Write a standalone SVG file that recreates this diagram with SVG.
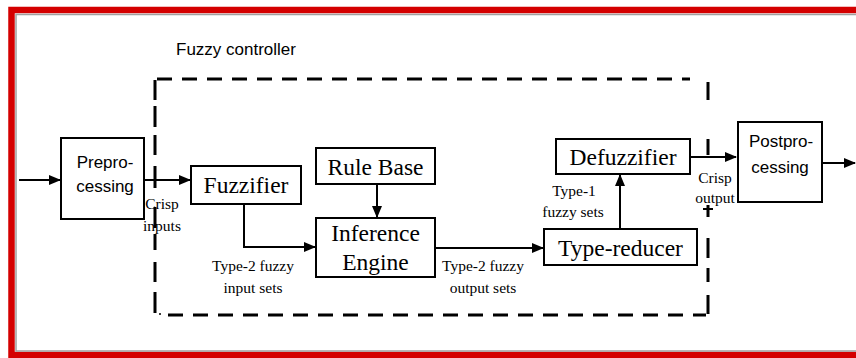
<svg xmlns="http://www.w3.org/2000/svg" width="856" height="358" viewBox="0 0 856 358">
<defs>
<marker id="ah" markerUnits="userSpaceOnUse" markerWidth="12" markerHeight="10" refX="11" refY="5" orient="auto">
<path d="M0,0 L12,5 L0,10 Z" fill="#000"/>
</marker>
<style>
.box{fill:#fff;stroke:#000;stroke-width:2}
.conn{fill:none;stroke:#000;stroke-width:2}
.dash{fill:none;stroke:#000;stroke-width:3}
.sans{font-family:"Liberation Sans",Arial,sans-serif;font-size:17px;fill:#000}
.big{font-family:"Liberation Serif","Times New Roman",serif;font-size:23.5px;fill:#000}
.lbl{font-family:"Liberation Serif","Times New Roman",serif;font-size:15.5px;fill:#000}
</style>
</defs>
<rect width="856" height="358" fill="#fff"/>
<g id="frame">
<path d="M856,10 H11.5 V355 H856" fill="none" stroke="#d40000" stroke-width="6.5"/>
<path d="M856,14.5 H16 V351 H856" fill="none" stroke="#a0a0a0" stroke-width="1.5"/>
</g>
<g id="controller">
<text class="sans" x="176" y="55">Fuzzy controller</text>
<path class="dash" d="M157,79 H690" stroke-dasharray="15 10"/>
<path class="dash" d="M168,315 H706" stroke-dasharray="15 10"/>
<path class="dash" d="M155,80 V100 M155,106 V127 M155,135 V155 M155,166 V188 M155,207 V228 M155,234 V250 M155,262 V282 M155,292 V313"/>
<circle cx="160" cy="314" r="1" fill="#000"/>
<path class="dash" d="M708,82 V100 M708,139 V155 M708,205 V217 M708,238 V258 M708,268 V282 M708,295 V314"/>
<path d="M703,209 H713" stroke="#000" stroke-width="2"/>
</g>
<g id="connectors">
<path class="conn" d="M19,180 H60" marker-end="url(#ah)"/>
<path class="conn" d="M144,180 H190" marker-end="url(#ah)"/>
<path class="conn" d="M377,184 V217" marker-end="url(#ah)"/>
<path class="conn" d="M244,204 V247 H315" marker-end="url(#ah)"/>
<path class="conn" d="M435,248 H543" marker-end="url(#ah)"/>
<path class="conn" d="M620,229 V175" marker-end="url(#ah)"/>
<path class="conn" d="M690,157 H736" marker-end="url(#ah)"/>
<path class="conn" d="M822,163 H855" marker-end="url(#ah)"/>
</g>
<g id="preprocessing">
<rect class="box" x="61" y="138" width="83" height="81"/>
<text class="sans" x="105" y="168" text-anchor="middle">Prepro-</text>
<text class="sans" x="105" y="192" text-anchor="middle">cessing</text>
</g>
<g id="crisp-inputs">
<text class="lbl" x="162" y="209" text-anchor="middle">Crisp</text>
<text class="lbl" x="162" y="231" text-anchor="middle">inputs</text>
</g>
<g id="fuzzifier">
<rect class="box" x="191" y="166" width="110" height="38"/>
<text class="big" x="246" y="193" text-anchor="middle">Fuzzifier</text>
</g>
<g id="rule-base">
<rect class="box" x="316" y="148" width="119" height="36"/>
<text class="big" x="375.5" y="175" text-anchor="middle">Rule Base</text>
</g>
<g id="inference-engine">
<rect class="box" x="316" y="218" width="119" height="59"/>
<text class="big" x="375.5" y="241" text-anchor="middle">Inference</text>
<text class="big" x="375.5" y="270" text-anchor="middle">Engine</text>
</g>
<g id="input-sets-label">
<text class="lbl" x="253" y="271" text-anchor="middle">Type-2 fuzzy</text>
<text class="lbl" x="253" y="293" text-anchor="middle">input sets</text>
</g>
<g id="output-sets-label">
<text class="lbl" x="483" y="271" text-anchor="middle">Type-2 fuzzy</text>
<text class="lbl" x="483" y="293" text-anchor="middle">output sets</text>
</g>
<g id="type-reducer">
<rect class="box" x="544" y="229" width="153" height="36"/>
<text class="big" x="620.5" y="256" text-anchor="middle">Type-reducer</text>
</g>
<g id="type1-label">
<text class="lbl" x="574" y="196" text-anchor="middle">Type-1</text>
<text class="lbl" x="573" y="217" text-anchor="middle">fuzzy sets</text>
</g>
<g id="defuzzifier">
<rect class="box" x="556" y="139" width="134" height="35"/>
<text class="big" x="623" y="165" text-anchor="middle">Defuzzifier</text>
</g>
<g id="crisp-output">
<text class="lbl" x="715" y="183" text-anchor="middle">Crisp</text>
<text class="lbl" x="715" y="203" text-anchor="middle">output</text>
</g>
<g id="postprocessing">
<rect class="box" x="738" y="122" width="84" height="80"/>
<text class="sans" x="781" y="147" text-anchor="middle">Postpro-</text>
<text class="sans" x="780" y="173" text-anchor="middle">cessing</text>
</g>
</svg>
